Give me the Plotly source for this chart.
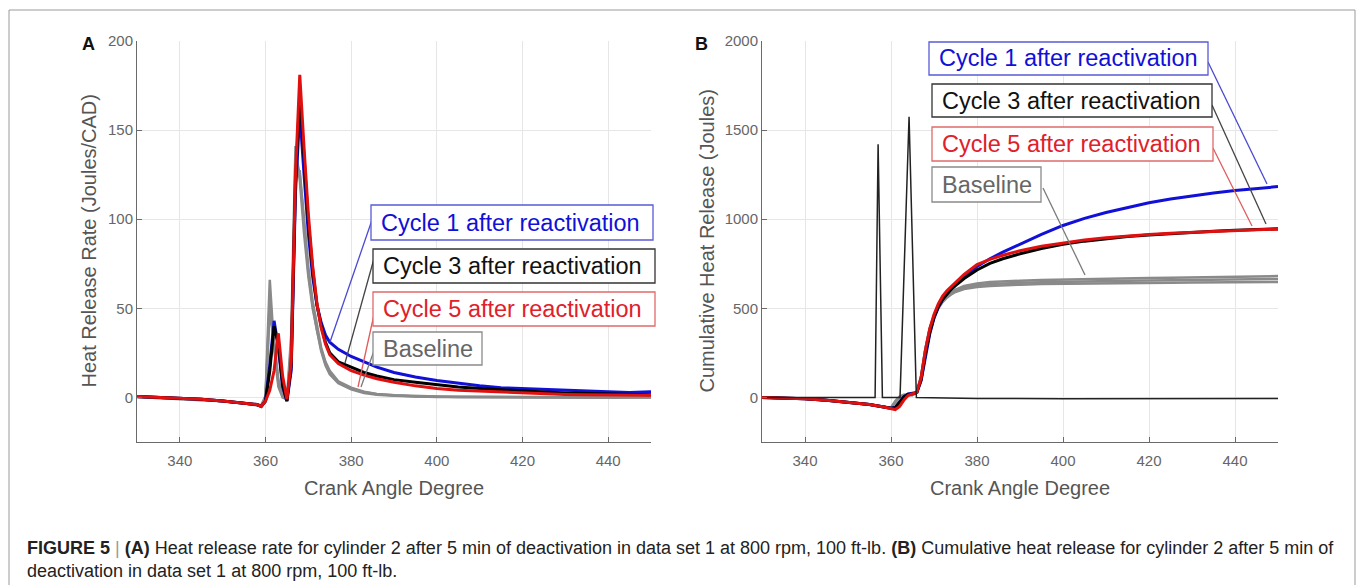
import plotly.graph_objects as go

W, H = 1357, 585

# ---------------- data ----------------
cad = [330, 335, 340, 345, 350, 355, 358, 359, 360, 361, 362, 363, 364, 365, 366, 367, 368, 369, 370,
       371, 372, 373, 374, 375, 377, 380, 383, 386, 390, 395, 400, 405, 410, 415, 420, 425, 430, 435,
       440, 445, 450]

# Panel A: heat release rate (J/CAD)
hrr_cycle1 = [0.5, 0, -0.5, -1, -2, -3, -4, -5, -2, 18, 43, 28, 6, -2, 15, 115, 160, 125, 92,
              68, 52, 42, 35, 31, 27, 23, 20, 17, 14, 11.5, 9.5, 8, 6.5, 5.5, 5, 4.3, 4, 3.6,
              3.2, 2.8, 3.2]
hrr_cycle3 = [0.5, 0, -0.5, -1, -2, -3, -4, -5, -2, 15, 40, 30, 7, -2, 18, 120, 170, 135, 98,
              72, 52, 40, 31, 25, 20, 17, 14, 12, 10, 8.5, 7, 5.8, 5, 4.2, 3.6, 3, 2.5, 2.2,
              1.8, 1.5, 1.5]
hrr_cycle5 = [0.5, 0, -0.5, -1, -2, -3, -4, -5, -2, 4, 15, 36, 12, -1, 20, 125, 181, 140, 103,
              74, 53, 39, 30, 24, 19, 15, 12.5, 10.5, 8.5, 6.5, 5, 4, 3.5, 3, 2.5, 2, 1.7, 1.5,
              1.3, 1.2, 1.2]
hrr_base1 = [0.5, 0, -0.5, -1, -2, -3, -4, -4.5, 1, 66, 28, 6, 0, -1, 35, 141, 122, 92, 68,
             50, 37, 26, 18, 13, 8, 4.5, 2.5, 1.5, 1, 0.5, 0.3, 0.2, 0.1, 0, 0, 0, -0.1, 0,
             -0.2, 0, 0]
hrr_base2 = [0.3, -0.2, -0.6, -1.2, -2, -3.2, -4.2, -4.6, 0, 55, 30, 8, 1, -1.5, 30, 135, 125, 95,
             70, 52, 38, 27, 19, 14, 8.5, 5, 3, 1.8, 1.2, 0.6, 0.4, 0.3, 0.2, 0.1, 0, 0.1, 0,
             0.1, 0, 0.1, 0.1]
hrr_base3 = [0.2, -0.3, -0.8, -1.3, -2.2, -3.3, -4.3, -4.8, -0.5, 48, 32, 10, 2, -1, 25, 128, 127, 98,
             73, 54, 40, 28, 20, 15, 9, 5.5, 3.2, 2, 1.3, 0.7, 0.5, 0.3, 0.2, 0.2, 0.1, 0.1,
             0.1, 0.1, 0.1, 0.1, 0.2]

# Panel B: cumulative heat release (J)
chr_cycle1 = [0, -3, -8, -16, -27, -40, -52, -56, -60, -55, -25, 5, 20, 22, 28, 95, 235, 355, 445,
              505, 550, 585, 612, 635, 680, 735, 778, 815, 860, 915, 965, 1005, 1038, 1067, 1092,
              1113, 1131, 1147, 1161, 1172, 1183]
chr_cycle3 = [0, -3, -8, -16, -27, -40, -52, -56, -60, -58, -30, 3, 18, 20, 27, 100, 245, 365, 450,
              510, 550, 582, 607, 628, 667, 715, 752, 778, 806, 836, 859, 877, 891, 903, 912,
              920, 927, 933, 938, 942, 946]
chr_cycle5 = [0, -3, -8, -16, -27, -40, -52, -57, -63, -68, -50, -15, 12, 20, 28, 110, 265, 385, 465,
              525, 568, 598, 622, 645, 690, 745, 775, 798, 823, 848, 868, 884, 896, 906, 914,
              921, 927, 932, 937, 941, 944]
chr_base1 = [0, -3, -8, -16, -27, -40, -52, -55, -58, -20, 5, 15, 15, 14, 30, 120, 275, 385, 455,
             500, 535, 560, 578, 592, 608, 620, 626, 630, 633, 636, 638, 640, 641, 642, 643,
             644, 645, 646, 647, 648, 648]
chr_base2 = [0, -3, -8, -16, -27, -40, -52, -55, -58, -25, 3, 14, 15, 14, 30, 118, 272, 385, 457,
             505, 540, 566, 585, 598, 617, 630, 637, 641, 643, 647, 650, 652, 654, 655, 656,
             658, 659, 661, 662, 664, 665]
chr_base3 = [0, -3, -8, -16, -27, -40, -52, -55, -58, -28, 0, 12, 14, 14, 30, 115, 270, 385, 460,
             510, 547, 573, 592, 605, 625, 640, 648, 652, 655, 659, 662, 664, 666, 668, 670,
             672, 674, 676, 678, 680, 681]

# thin trace with two spikes (panel B)
cad_spike = [330, 340, 350, 356.3, 357.0, 358.0, 362.1, 364.2, 365.9, 380, 400, 420, 440, 450]
chr_spike = [0, 0, -1, 0, 1420, 0, 0, 1575, 0, -6, -7, -6, -7, -6]

series_labels = ["Cycle 1 after reactivation", "Cycle 3 after reactivation",
                 "Cycle 5 after reactivation", "Baseline"]
tick_x = [340, 360, 380, 400, 420, 440]

# ---------------- styles ----------------
BLUE, BLACK, RED, GRAY = "#1010d8", "#000000", "#e01010", "#8a8a8a"
FONT = "Liberation Sans, Arial, Helvetica, sans-serif"


def px(x):
    return x / W


def py(y):
    return 1 - y / H


fig = go.Figure()

# Panel A traces
for yv in (hrr_base1, hrr_base2, hrr_base3):
    fig.add_trace(go.Scatter(x=cad, y=yv, mode="lines", line=dict(color=GRAY, width=2.5),
                             xaxis="x", yaxis="y", hoverinfo="skip", showlegend=False))
fig.add_trace(go.Scatter(x=cad, y=hrr_cycle1, mode="lines", line=dict(color=BLUE, width=3),
                         xaxis="x", yaxis="y", showlegend=False))
fig.add_trace(go.Scatter(x=cad, y=hrr_cycle3, mode="lines", line=dict(color=BLACK, width=3),
                         xaxis="x", yaxis="y", showlegend=False))
fig.add_trace(go.Scatter(x=cad, y=hrr_cycle5, mode="lines", line=dict(color=RED, width=3),
                         xaxis="x", yaxis="y", showlegend=False))

# Panel B traces
for yv in (chr_base1, chr_base2, chr_base3):
    fig.add_trace(go.Scatter(x=cad, y=yv, mode="lines", line=dict(color=GRAY, width=2.5),
                             xaxis="x2", yaxis="y2", hoverinfo="skip", showlegend=False))
fig.add_trace(go.Scatter(x=cad, y=chr_cycle1, mode="lines", line=dict(color=BLUE, width=3),
                         xaxis="x2", yaxis="y2", showlegend=False))
fig.add_trace(go.Scatter(x=cad, y=chr_cycle3, mode="lines", line=dict(color=BLACK, width=3),
                         xaxis="x2", yaxis="y2", showlegend=False))
fig.add_trace(go.Scatter(x=cad, y=chr_cycle5, mode="lines", line=dict(color=RED, width=3),
                         xaxis="x2", yaxis="y2", showlegend=False))
fig.add_trace(go.Scatter(x=cad_spike, y=chr_spike, mode="lines", line=dict(color="#222222", width=1.5),
                         xaxis="x2", yaxis="y2", showlegend=False))

axis_common = dict(showline=True, linecolor="#6a6a6a", linewidth=1, mirror=False, automargin=False,
                   ticks="inside", ticklen=5, tickcolor="#6a6a6a", showgrid=True,
                   gridcolor="#e6e6e6", gridwidth=1, zeroline=False,
                   tickfont=dict(family=FONT, size=15, color="#666666"))

dom_y = [py(442), py(41)]
fig.update_layout(
    template="none",
    width=W, height=H, margin=dict(l=0, r=0, t=0, b=0, pad=0, autoexpand=False),
    paper_bgcolor="white", plot_bgcolor="white", showlegend=False,
    xaxis=dict(domain=[px(137), px(651)], range=[330, 450], tickvals=tick_x, anchor="y",
               ticklabelstandoff=5, **axis_common),
    yaxis=dict(domain=dom_y, range=[-25, 200], tickvals=[0, 50, 100, 150, 200], anchor="x", **axis_common),
    xaxis2=dict(domain=[px(762), px(1278)], range=[330, 450], tickvals=tick_x, anchor="y2",
                ticklabelstandoff=5, **axis_common),
    yaxis2=dict(domain=dom_y, range=[-250, 2000], tickvals=[0, 500, 1000, 1500, 2000], anchor="x2",
                **axis_common),
)

shapes = []
annotations = []

# outer frame
for (x0, y0, x1, y1) in [(9, 10, 1355, 10), (9, 10, 9, H), (1355, 10, 1355, H)]:
    shapes.append(dict(type="line", xref="paper", yref="paper", x0=px(x0), y0=py(y0), x1=px(x1), y1=py(y1),
                       line=dict(color="#9a9a9a", width=1), layer="above"))

# panel letters
annotations.append(dict(text="<b>A</b>", x=px(88), y=py(44), xref="paper", yref="paper", showarrow=False,
                        font=dict(family=FONT, size=18, color="#111"), xanchor="center", yanchor="middle"))
annotations.append(dict(text="<b>B</b>", x=px(701), y=py(44), xref="paper", yref="paper", showarrow=False,
                        font=dict(family=FONT, size=18, color="#111"), xanchor="center", yanchor="middle"))

# axis titles
title_font = dict(family=FONT, size=20, color="#555555")
for txt, xc in [("Heat Release Rate (Joules/CAD)", 88), ("Cumulative Heat Release (Joules)", 706)]:
    annotations.append(dict(text=txt, x=px(xc), y=py(241.5), xref="paper", yref="paper", showarrow=False,
                            textangle=-90, font=title_font, xanchor="center", yanchor="middle"))
for xc in (394, 1020):
    annotations.append(dict(text="Crank Angle Degree", x=px(xc), y=py(488), xref="paper", yref="paper",
                            showarrow=False, font=title_font, xanchor="center", yanchor="middle"))

# legend boxes with leader lines
text_colors = [BLUE, "#111111", "#e0202a", "#666666"]
box_colors = ["#5a5ad8", "#333333", "#e06a6a", "#8a8a8a"]
lead_colors = ["#4a4ad0", "#444444", "#e05a5a", "#7a7a7a"]
boxes_a = [(371, 205, 653, 240), (373, 249, 655, 283), (373, 292, 655, 326), (373, 332, 482, 365)]
leads_a = [((372, 220), (330, 342)), ((375, 255), (345, 363)), ((375, 310), (358, 387)),
           ((375, 348), (361, 387))]
boxes_b = [(929, 42, 1208, 75), (932, 84, 1212, 117), (932, 127, 1213, 161), (932, 167, 1041, 202)]
leads_b = [((1208, 62), (1267, 184)), ((1212, 105), (1266, 224)), ((1213, 148), (1252, 226)),
           ((1043, 188), (1085, 275))]

for boxes, leads in ((boxes_a, leads_a), (boxes_b, leads_b)):
    for i, ((x0, y0, x1, y1), (p0, p1)) in enumerate(zip(boxes, leads)):
        shapes.append(dict(type="line", xref="paper", yref="paper", x0=px(p0[0]), y0=py(p0[1]),
                           x1=px(p1[0]), y1=py(p1[1]), line=dict(color=lead_colors[i], width=1.3),
                           layer="above"))
        shapes.append(dict(type="rect", xref="paper", yref="paper", x0=px(x0), y0=py(y0), x1=px(x1), y1=py(y1),
                           line=dict(color=box_colors[i], width=1.3), fillcolor="white", layer="above"))
        annotations.append(dict(text=series_labels[i], x=px(x0 + 8), y=py((y0 + y1) / 2), xref="paper",
                                yref="paper", showarrow=False, xanchor="left", yanchor="middle",
                                font=dict(family=FONT, size=23.5, color=text_colors[i])))

# caption
cap_font = dict(family=FONT, size=18, color="#222222")
line1 = ("<b>FIGURE 5</b> <span style='color:#999'>|</span> <b>(A)</b> Heat release rate for cylinder 2 after 5 min "
         "of deactivation in data set 1 at 800 rpm, 100 ft-lb. <b>(B)</b> Cumulative heat release for "
         "cylinder 2 after 5 min of")
line2 = "deactivation in data set 1 at 800 rpm, 100 ft-lb."
annotations.append(dict(text=line1, x=px(25), y=py(548), xref="paper", yref="paper", showarrow=False,
                        xanchor="left", yanchor="middle", font=cap_font))
annotations.append(dict(text=line2, x=px(25), y=py(571), xref="paper", yref="paper", showarrow=False,
                        xanchor="left", yanchor="middle", font=cap_font))

fig.update_layout(shapes=shapes, annotations=annotations)
fig.write_html("out.html")
